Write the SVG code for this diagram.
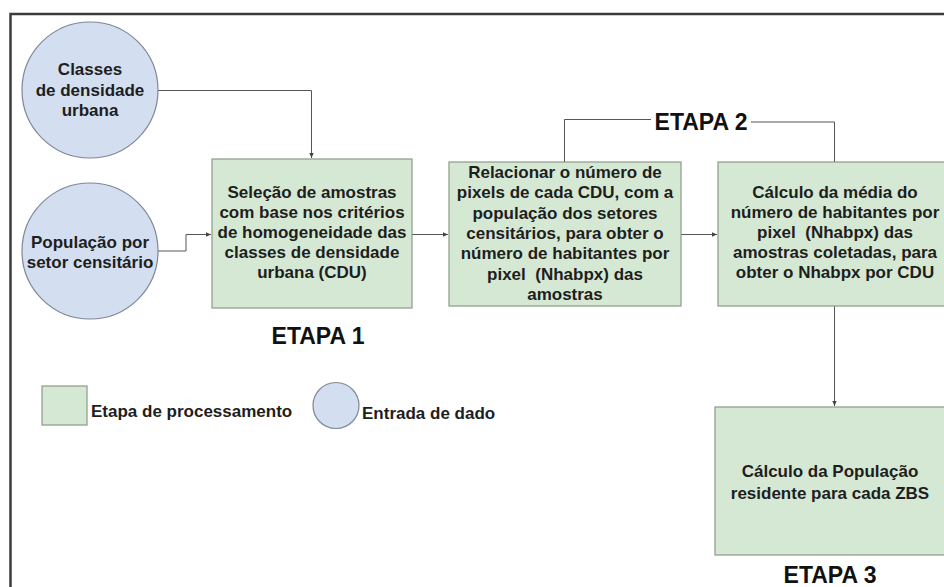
<svg xmlns="http://www.w3.org/2000/svg" width="944" height="587" viewBox="0 0 944 587">
<defs>
<style>
.proc{fill:#d5e8d4;stroke:#8a9a88;stroke-width:1.2}
.inp{fill:#d3dff0;stroke:#7d8796;stroke-width:1.2}
.t{font-family:"Liberation Sans",Arial,sans-serif;font-weight:bold;font-size:17px;fill:#1e1e1e;text-anchor:middle}
.tl{font-family:"Liberation Sans",Arial,sans-serif;font-weight:bold;font-size:17px;fill:#1e1e1e}
.et{font-family:"Liberation Sans",Arial,sans-serif;font-weight:bold;font-size:23px;fill:#111;text-anchor:middle}
.c{fill:none;stroke:#555;stroke-width:1}
</style>
<marker id="ah" markerWidth="6" markerHeight="6" refX="5" refY="3" orient="auto" markerUnits="userSpaceOnUse">
<path d="M0,0.8 L5,3 L0,5.2 Z" fill="#444"/>
</marker>
</defs>
<rect x="0" y="0" width="944" height="587" fill="#ffffff"/>
<rect id="frame" x="10.5" y="14" width="960" height="600" fill="none" stroke="#3c3c3c" stroke-width="2.5"/>

<g id="connectors">
<path class="c" d="M158,90.5 H311.5 V158" marker-end="url(#ah)"/>
<path class="c" d="M158,251 H186 V234.5 H211" marker-end="url(#ah)"/>
<path class="c" d="M412,234.5 H448" marker-end="url(#ah)"/>
<path class="c" d="M681,234.5 H717" marker-end="url(#ah)"/>
<path class="c" d="M834.5,306 V406" marker-end="url(#ah)"/>
<path class="c" d="M564.5,162 V119.5 H651"/>
<path class="c" d="M751,122 H834.5 V162"/>
</g>

<g id="n-classes">
<circle class="inp" cx="90" cy="90" r="68"/>
<text class="t" x="90" y="75">Classes</text>
<text class="t" x="90" y="95.5">de densidade</text>
<text class="t" x="90" y="116">urbana</text>
</g>

<g id="n-populacao">
<circle class="inp" cx="90" cy="251" r="68"/>
<text class="t" x="90" y="248">População por</text>
<text class="t" x="90" y="268">setor censitário</text>
</g>

<g id="n-selecao">
<rect class="proc" x="212" y="159" width="200" height="149"/>
<text class="t" x="312" y="198">Seleção de amostras</text>
<text class="t" x="312" y="218">com base nos critérios</text>
<text class="t" x="312" y="238">de homogeneidade das</text>
<text class="t" x="312" y="258">classes de densidade</text>
<text class="t" x="312" y="278">urbana (CDU)</text>
</g>

<g id="n-relacionar">
<rect class="proc" x="449" y="162" width="232" height="144"/>
<text class="t" x="565" y="178">Relacionar o número de</text>
<text class="t" x="565" y="198.3">pixels de cada CDU, com a</text>
<text class="t" x="565" y="218.6">população dos setores</text>
<text class="t" x="565" y="238.9">censitários, para obter o</text>
<text class="t" x="565" y="259.2">número de habitantes por</text>
<text class="t" x="565" y="279.5">pixel&#160; (Nhabpx) das</text>
<text class="t" x="565" y="299.8">amostras</text>
</g>

<g id="n-media">
<rect class="proc" x="718" y="162" width="240" height="144"/>
<text class="t" x="835" y="198">Cálculo da média do</text>
<text class="t" x="835" y="218">número de habitantes por</text>
<text class="t" x="835" y="238">pixel&#160; (Nhabpx) das</text>
<text class="t" x="835" y="258">amostras coletadas, para</text>
<text class="t" x="835" y="278">obter o Nhabpx por CDU</text>
</g>

<g id="n-populacao-zbs">
<rect class="proc" x="715" y="407" width="240" height="148"/>
<text class="t" x="830" y="477">Cálculo da População</text>
<text class="t" x="830" y="499">residente para cada ZBS</text>
</g>

<g id="labels">
<text class="et" x="318" y="344">ETAPA 1</text>
<text class="et" x="701" y="130">ETAPA 2</text>
<text class="et" x="830" y="583">ETAPA 3</text>
</g>

<g id="legend">
<rect class="proc" x="42" y="386" width="45" height="39"/>
<text class="tl" x="91" y="417">Etapa de processamento</text>
<circle class="inp" cx="336" cy="405.5" r="23"/>
<text class="tl" x="362" y="419">Entrada de dado</text>
</g>
</svg>
